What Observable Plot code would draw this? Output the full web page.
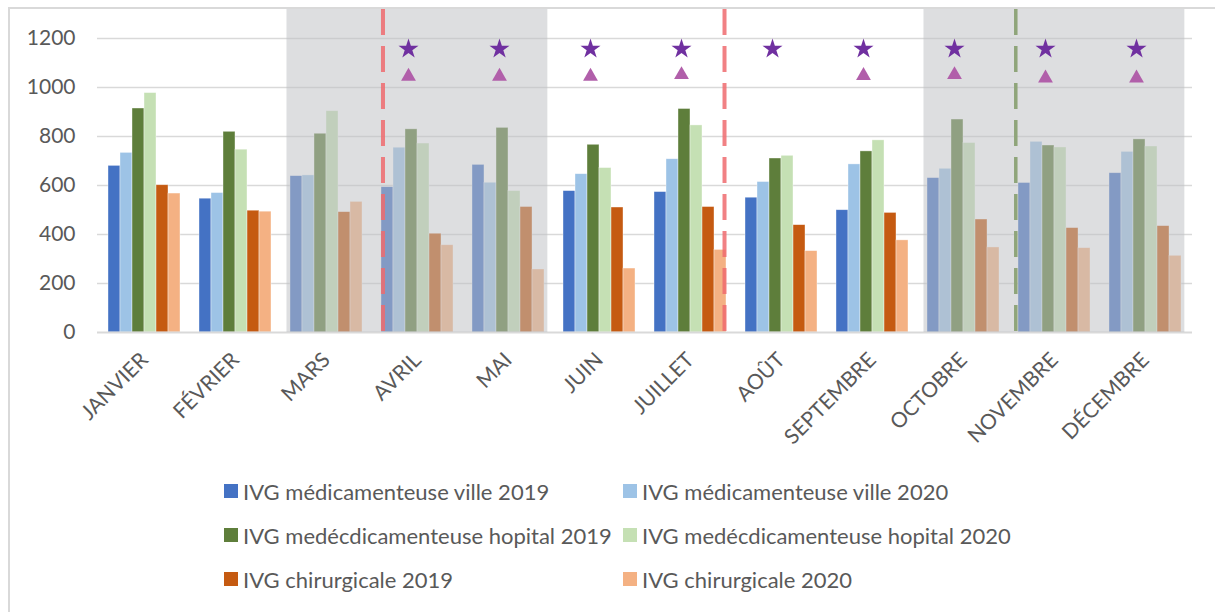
<!DOCTYPE html>
<html>
<head>
<meta charset="utf-8">
<script src="https://cdn.jsdelivr.net/npm/d3@7"></script>
<script src="https://cdn.jsdelivr.net/npm/@observablehq/plot@0.6"></script>
<style>
  html, body { margin: 0; padding: 0; background: #ffffff; }
  body { width: 1215px; height: 612px; position: relative; overflow: hidden; font-family: Lato, "Open Sans", sans-serif; }
  #chart { position: absolute; left: 0; top: 0; }
  #frame { position: absolute; left: 8px; top: 7px; width: 1230px; height: 640px;
           border-left: 2px solid #d9d9d9; border-top: 2px solid #d9d9d9; z-index: 2; pointer-events: none; }
  #legend { position: absolute; left: 224px; top: 469px; display: grid;
            grid-template-columns: 399px 400px; grid-auto-rows: 44px; align-items: center;
            font-size: 22px; color: #595959; }
  .item { display: flex; align-items: center; white-space: nowrap; }
  .sw { width: 14px; height: 14px; margin-right: 5px; flex: none; }
</style>
</head>
<body>
<div id="chart"></div>
<div id="legend"></div>
<div id="frame"></div>
<script>
// ---- data ----
const months = ["JANVIER", "FÉVRIER", "MARS", "AVRIL", "MAI", "JUIN", "JUILLET", "AOÛT", "SEPTEMBRE", "OCTOBRE", "NOVEMBRE", "DÉCEMBRE"];
const seriesNames = [
  "IVG médicamenteuse ville 2019",
  "IVG médicamenteuse ville 2020",
  "IVG medécdicamenteuse hopital 2019",
  "IVG medécdicamenteuse hopital 2020",
  "IVG chirurgicale 2019",
  "IVG chirurgicale 2020"
];
const medVille2019   = [680, 546, 638, 593, 684, 577, 573, 550, 499, 630, 610, 650];
const medVille2020   = [733, 569, 641, 754, 611, 646, 707, 614, 686, 668, 778, 737];
const medHopital2019 = [914, 819, 811, 829, 835, 766, 912, 710, 739, 869, 763, 788];
const medHopital2020 = [977, 746, 903, 771, 577, 671, 845, 721, 784, 773, 755, 759];
const chir2019       = [601, 497, 491, 403, 512, 510, 512, 438, 488, 461, 426, 434];
const chir2020       = [567, 493, 533, 356, 257, 261, 337, 332, 376, 347, 344, 313];
const seriesValues = [medVille2019, medVille2020, medHopital2019, medHopital2020, chir2019, chir2020];
const seriesColors = ["#4472C4", "#9DC3E6", "#5E7E3B", "#C5E0B4", "#C55A11", "#F4B183"];

const yTicks = [0, 200, 400, 600, 800, 1000, 1200];

// shaded periods (lockdowns)
const shadedBlocks = [["MARS", "AVRIL", "MAI"], ["OCTOBRE", "NOVEMBRE", "DÉCEMBRE"]];
// markers
const starMonths = ["AVRIL", "MAI", "JUIN", "JUILLET", "AOÛT", "SEPTEMBRE", "OCTOBRE", "NOVEMBRE", "DÉCEMBRE"];
const starValues = [1157, 1157, 1157, 1157, 1157, 1157, 1157, 1157, 1157];
const triangleMonths = ["AVRIL", "MAI", "JUIN", "JUILLET", "SEPTEMBRE", "OCTOBRE", "NOVEMBRE", "DÉCEMBRE"];
const triangleValues = [1045, 1045, 1045, 1052, 1048, 1052, 1038, 1038];
// vertical dashed event lines
const redLineStart = ["AVRIL"];
const redLineEnd = ["JUILLET"];
const greenLineStart = ["NOVEMBRE"];

// ---- layout ----
const W = 1215, H = 470;
const mL = 97, mR = 23, mT = 9, mB = 138;
const padIn = 0.21, padOut = 0.11;
const yMax = 1318;
const step = (W - mL - mR) / (months.length - padIn + 2 * padOut);
const bandW = step * (1 - padIn);
const barW = bandW / seriesNames.length;

const rows = [];
seriesValues.forEach((vals, s) => vals.forEach((v, m) => rows.push({month: months[m], s, value: v})));

const barMarks = seriesNames.map((name, s) =>
  Plot.barY(rows.filter(r => r.s === s), {
    x: "month", y: "value", fill: seriesColors[s],
    insetLeft: s * barW, insetRight: (seriesNames.length - 1 - s) * barW,
    stroke: "#ffffff", strokeWidth: 0.7, strokeOpacity: 0.55
  })
);

// one translucent rectangle per shaded block, anchored on its first month
const shadeMarks = shadedBlocks.map(b =>
  Plot.barY([b[0]], {
    x: d => d, y: yMax, fill: "#BEC0C4", fillOpacity: 0.52,
    insetLeft: -3.5, insetRight: -((b.length - 1) * step + 3)
  })
);

const dashStyle = {y1: yMax, y2: 0, strokeWidth: 4, strokeDasharray: "26,11"};

const chart = Plot.plot({
  width: W, height: H,
  marginLeft: mL, marginRight: mR, marginTop: mT, marginBottom: mB,
  style: {fontFamily: "Lato, 'Open Sans', sans-serif", fontSize: "21px", color: "#595959", background: "transparent", overflow: "visible"},
  x: {domain: months, paddingInner: padIn, paddingOuter: padOut, label: null, tickSize: 0, tickPadding: 24, tickRotate: -45},
  y: {domain: [0, yMax], ticks: yTicks, tickFormat: d3.format("d"), label: null, tickSize: 0, tickPadding: 22},
  marks: [
    Plot.ruleY(yTicks.filter(t => t > 0), {y: d => d, stroke: "#d9d9d9", strokeWidth: 1.5}),
    ...barMarks,
    Plot.ruleY([0], {y: d => d, stroke: "#d9d9d9", strokeWidth: 2}),
    ...shadeMarks,
    Plot.ruleX(redLineStart, {x: d => d, ...dashStyle, stroke: "#EE6B6E", strokeOpacity: 0.85, dx: -bandW / 2 + 1.5}),
    Plot.ruleX(redLineEnd, {x: d => d, ...dashStyle, stroke: "#EE6B6E", strokeOpacity: 0.85, dx: bandW / 2 - 2}),
    Plot.ruleX(greenLineStart, {x: d => d, ...dashStyle, stroke: "#8FA57A", strokeWidth: 3.5, dx: -bandW / 2 - 2.7}),
    Plot.dot(starMonths.map((m, i) => ({month: m, value: starValues[i]})), {x: "month", y: "value", symbol: "star", r: 6.3, fill: "#7030A0", stroke: "none", dx: -9}),
    Plot.dot(triangleMonths.map((m, i) => ({month: m, value: triangleValues[i]})), {x: "month", y: "value", symbol: "triangle", r: 5.5, fill: "#B15FAA", stroke: "none", dx: -9})
  ]
});
document.getElementById("chart").appendChild(chart);

// legend
const legend = document.getElementById("legend");
seriesNames.forEach((name, s) => {
  const item = document.createElement("div");
  item.className = "item";
  const sw = document.createElement("span");
  sw.className = "sw";
  sw.style.background = seriesColors[s];
  const label = document.createElement("span");
  label.textContent = name;
  item.appendChild(sw);
  item.appendChild(label);
  legend.appendChild(item);
});
</script>
</body>
</html>
